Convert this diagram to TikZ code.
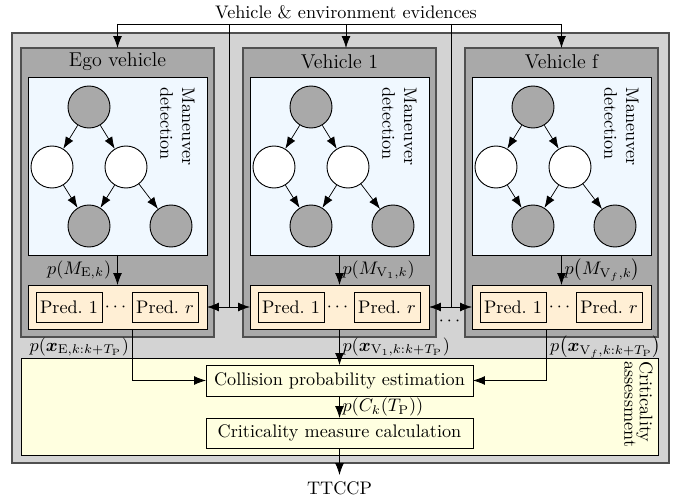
\documentclass[tikz,border=0pt]{standalone}
\usepackage{amsmath,bm}
\usetikzlibrary{arrows.meta,calc}
\newlength\un \setlength\un{0.55pt}
\definecolor{outerfill}{HTML}{D3D3D3}
\definecolor{vehfill}{HTML}{A9A9A9}
\definecolor{frame}{HTML}{505050}
\definecolor{mdfill}{HTML}{F0F8FF}
\definecolor{predfill}{HTML}{FFEFD5}
\definecolor{crfill}{HTML}{FFFFE0}
\begin{document}
\begin{tikzpicture}[x=0.55pt, y=-0.55pt,
  wh/.style 2 args={minimum width=#1*\un, minimum height=#2*\un, inner sep=0pt, outer sep=0pt},
  arr/.style={-{Latex[length=6.5pt,width=4.8pt]}},
  darr/.style={{Latex[length=6.5pt,width=4.8pt]}-{Latex[length=6.5pt,width=4.8pt]}},
  outerbox/.style={draw=frame, line width=0.8pt, fill=outerfill},
  vehbox/.style={draw=frame, line width=0.8pt, fill=vehfill},
  mdbox/.style={draw=black, line width=0.5pt, fill=mdfill},
  predrow/.style={draw=black, line width=0.5pt, fill=predfill},
  predbox/.style={draw=black, line width=0.5pt},
  crbox/.style={draw=black, line width=0.5pt, fill=crfill},
  procbox/.style={draw=black, line width=0.5pt},
  gnode/.style={circle, draw=black, line width=0.5pt, minimum size=42*\un, inner sep=0pt},
  obs/.style={gnode, fill=vehfill},
  hid/.style={gnode, fill=white},
  lbl/.style={inner sep=1.5pt},
  vtitle/.style={font=\fontsize{11}{13}\selectfont},
  rottext/.style={rotate=-90, anchor=north west, align=left, inner sep=0pt},
]
\useasboundingbox (0,0) rectangle (683,501);

% outer frame and criticality area
\node[outerbox, wh={657}{430}] (outer) at (340.5,248) {};
\node[crbox, wh={637}{97}] (crit) at (339.5,406.5) {};
\node[rottext, font=\fontsize{10}{8.5}\selectfont] (critlbl) at ($(crit.north east)+(-5,3)$) {Criticality\\assessment};

% vehicle columns
\foreach \n/\dx/\ttl in {E/0/Ego vehicle, V1/222/Vehicle 1, Vf/444/Vehicle f} {
  \node[vehbox, wh={193}{289}] (veh\n) at (117.5+\dx,192.5) {};
  \node[vtitle] (ttl\n) at (117.5+\dx,62) {\ttl};
  \node[mdbox, wh={179}{178}] (md\n) at (117.5+\dx,166) {};
  \node[rottext, font=\fontsize{10}{12}\selectfont] (mdl\n) at ($(md\n.north east)+(-12,10)$) {Maneuver\\detection};
  \node[obs] (ca\n) at (89+\dx,107) {};
  \node[hid] (cb\n) at (52+\dx,167) {};
  \node[hid] (cc\n) at (126+\dx,167) {};
  \node[obs] (cd\n) at (89+\dx,226) {};
  \node[obs] (ce\n) at (171+\dx,226) {};
  \draw[arr] (ca\n) -- (cb\n);
  \draw[arr] (ca\n) -- (cc\n);
  \draw[arr] (cb\n) -- (cd\n);
  \draw[arr] (cc\n) -- (cd\n);
  \draw[arr] (cc\n) -- (ce\n);
  \node[predrow, wh={179}{44}] (pr\n) at (117.5+\dx,307) {};
  \node[predbox, wh={66}{30}] (pa\n) at (69+\dx,307) {Pred.~1};
  \node[predbox, wh={66}{30}] (pb\n) at (165+\dx,307) {Pred.~$r$};
  \node[inner sep=0pt] (pd\n) at (117+\dx,307) {$\cdots$};
}

% maneuver probabilities
\draw[arr] (mdE) -- node[left] (lmE) {$p\mathopen{}\left(M_{\mathrm{E},k}\right)$} (prE);
\draw[arr] (mdV1) -- node[right, lbl] (lmV1) {$p\mathopen{}\left(M_{\mathrm{V}_1,k}\right)$} (prV1);
\draw[arr] (mdVf) -- node[right, lbl] (lmVf) {$p\mathopen{}\left(M_{\mathrm{V}_f,k}\right)$} (prVf);

% evidences
\node (evid) at (346,12) {Vehicle \& environment evidences};
\coordinate (tl) at (117.5,24);
\coordinate (tr) at (561.5,24);
\coordinate (j1) at (229,24);
\coordinate (j2) at (451,24);
\draw (tl) -- (tr);
\draw[arr] (tl) -- (vehE.north);
\draw[arr] (tr) -- (vehVf.north);
\draw[arr] (evid.south |- tl) -- (evid.south |- vehV1.north);
\draw (j1) -- (j1 |- prE.east);
\draw (j2) -- (j2 |- prV1.east);
\draw[darr] (prE.east) -- (prV1.west);
\draw[darr] (prV1.east) -- (prVf.west);
\node[inner sep=0pt] (vdots) at (451,321) {$\cdots$};

% criticality assessment
\node[procbox, wh={267}{31}] (coll) at (339.5,380.5) {Collision probability estimation};
\node[procbox, wh={267}{30}] (meas) at (339.5,433) {Criticality measure calculation};
\node (ttccp) at (339.5,488) {TTCCP};

\draw[arr] (pbE.west |- prE.south) -- (pbE.west |- coll.west) -- (coll.west);
\draw[arr] (paVf.east |- prVf.south) -- (paVf.east |- coll.east) -- (coll.east);
\draw[arr] (prV1.south) -- (coll.north);
\node[anchor=east, lbl] (lxE) at (132,347) {$p\mathopen{}\left(\boldsymbol{x}_{\mathrm{E},k:k+T_\mathrm{P}}\right)$};
\node[anchor=west, lbl] (lxV1) at (339.5,347) {$p\mathopen{}\left(\boldsymbol{x}_{\mathrm{V}_1,k:k+T_\mathrm{P}}\right)$};
\node[anchor=west, lbl] (lxVf) at (547,347) {$p\mathopen{}\left(\boldsymbol{x}_{\mathrm{V}_f,k:k+T_\mathrm{P}}\right)$};

\draw[arr] (coll) -- node[right, lbl] (lpc) {$p\mathopen{}\left(C_k(T_\mathrm{P})\right)$} (meas);
\draw[arr] (meas) -- (ttccp);
\end{tikzpicture}
\end{document}
